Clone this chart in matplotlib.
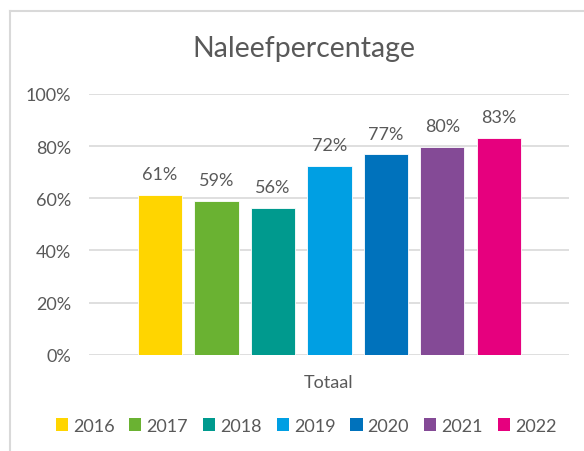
import matplotlib
matplotlib.use("Agg")
import matplotlib.pyplot as plt
from matplotlib.lines import Line2D
from matplotlib.patches import Patch

years = ["2016", "2017", "2018", "2019", "2020", "2021", "2022"]
values = [0.613, 0.589, 0.564, 0.724, 0.768, 0.798, 0.832]
colors = ["#FFD500", "#6AB232", "#009A8E", "#009FE3", "#0072BC", "#844A96", "#E6007E"]
yticks = [0, 0.2, 0.4, 0.6, 0.8, 1.0]
ytick_labels = ["0%", "20%", "40%", "60%", "80%", "100%"]
category = "Totaal"
title = "Naleefpercentage"

plt.rcParams['font.family'] = ['Lato', 'DejaVu Sans']
txt = "#595959"
fs = 13

W, H = 584, 452
fig = plt.figure(figsize=(W / 100, H / 100), dpi=100)
ax = fig.add_axes([89 / W, 1 - 355.7 / H, 480 / W, (355.7 - 95) / H])

xs = list(range(len(years)))
ax.bar(xs, values, width=0.78, color=colors, edgecolor="white", linewidth=0.6, zorder=3)
for x, v in zip(xs, values):
    ax.text(x, v + 0.061, f"{round(v * 100):.0f}%", ha="center", va="baseline",
            fontsize=fs, color=txt)

ax.set_ylim(0, 1)
ax.set_xlim(-1.257, len(years) - 1 + 1.24)
ax.set_yticks(yticks)
ax.set_yticklabels(ytick_labels, fontsize=fs, color=txt)
ax.set_xticks([])
ax.grid(axis="y", color="#D9D9D9", linewidth=1.2, zorder=0)
for s in ax.spines.values():
    s.set_visible(False)
ax.tick_params(axis="y", length=0, pad=12.7)

fig.text(303.7 / W, 1 - 56.7 / H, title, ha="center", va="baseline", fontsize=20.5, color=txt)
fig.text(329 / W, 1 - 388.3 / H, category, ha="center", va="baseline", fontsize=fs, color=txt)

handles = [Patch(facecolor=c, edgecolor="none") for c in colors]
fig.legend(handles, years, loc="center", bbox_to_anchor=(306 / W, 1 - 426.7 / H), ncol=7,
           frameon=False, fontsize=fs, labelcolor=txt, handlelength=0.67, handleheight=0.67,
           handletextpad=0.28, columnspacing=0.83, borderpad=0, borderaxespad=0)

fig.add_artist(Line2D([10 / W, 10 / W], [0, 1 - 11.5 / H], transform=fig.transFigure, color="#D9D9D9", linewidth=1.5))
fig.add_artist(Line2D([10 / W, 1], [1 - 11.5 / H, 1 - 11.5 / H], transform=fig.transFigure, color="#D9D9D9", linewidth=1.5))

fig.savefig("out.png", dpi=100, facecolor="white")
